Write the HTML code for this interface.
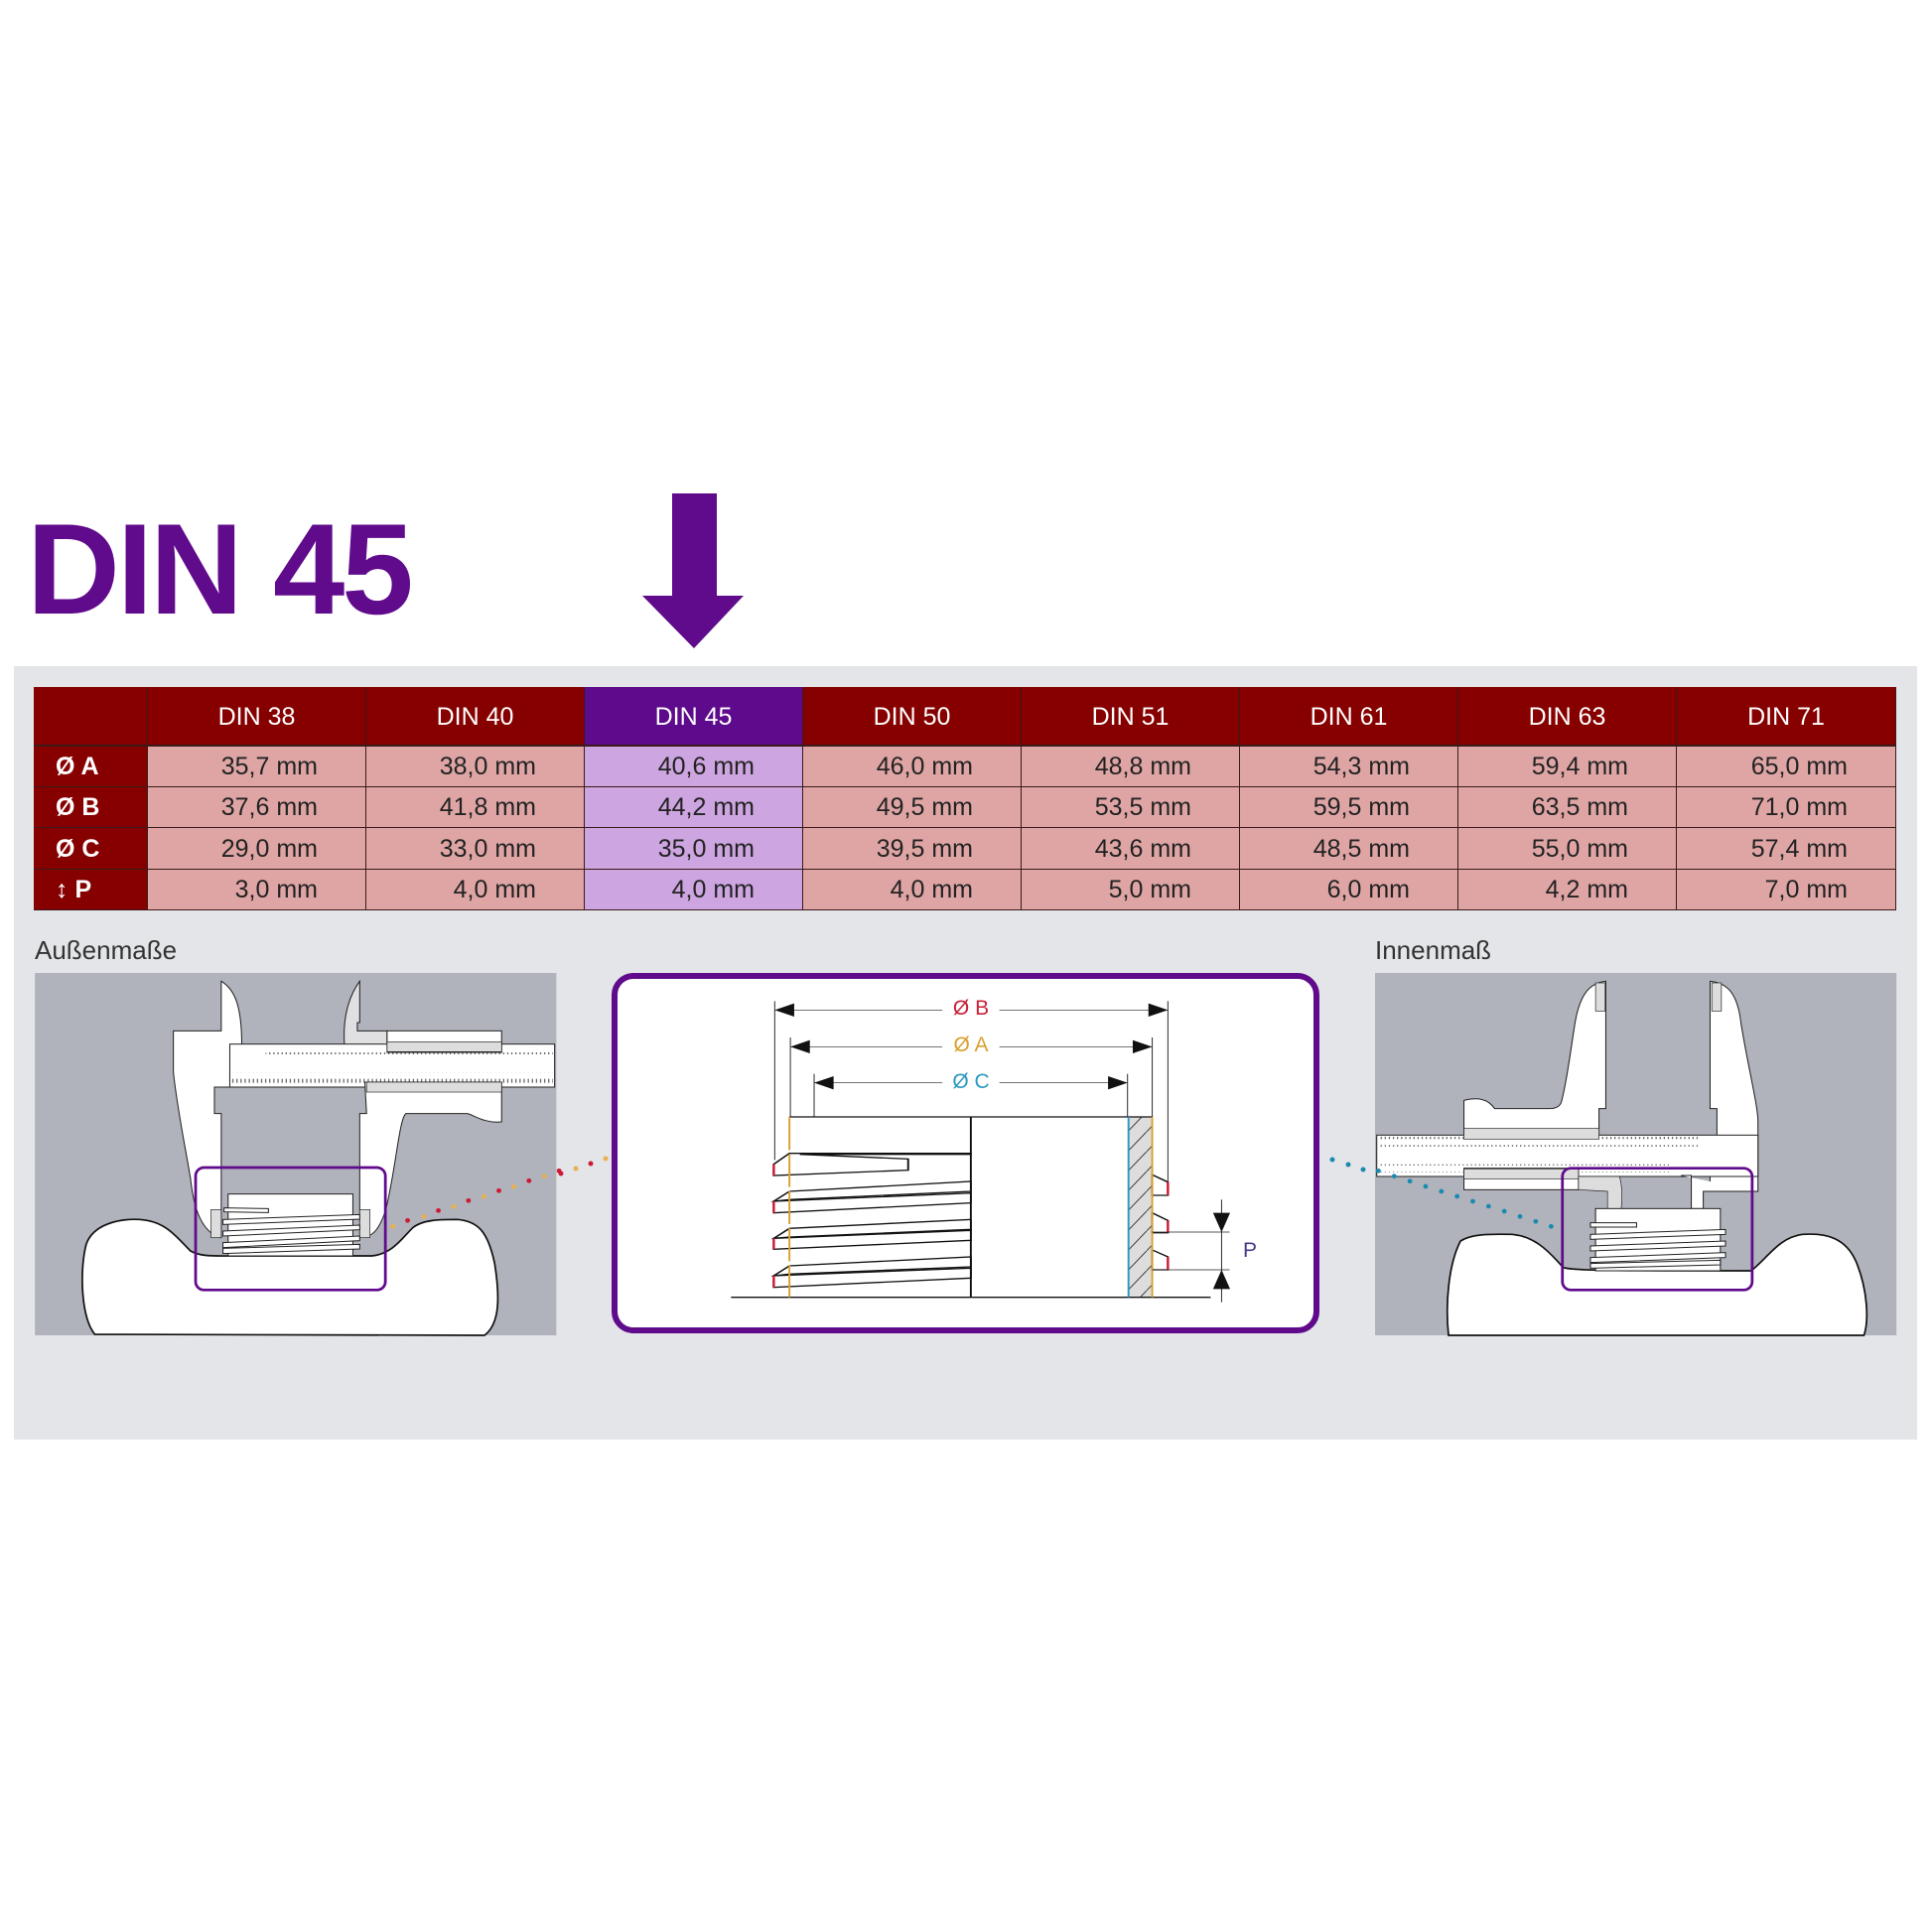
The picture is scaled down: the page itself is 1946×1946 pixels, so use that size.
<!DOCTYPE html>
<html><head><meta charset="utf-8"><style>
body{margin:0;width:1946px;height:1946px;background:#fff;position:relative;overflow:hidden;font-family:"Liberation Sans",sans-serif}
.a{position:absolute}
.c{position:absolute;box-sizing:border-box;border-right:1.5px solid #3a1a1a;border-bottom:1.5px solid #3a1a1a;font-size:25px;color:#222;text-align:right;padding-right:48px}
.h{position:absolute;box-sizing:border-box;border-right:1.5px solid #3a1a1a;border-bottom:2px solid #3a1a1a;font-size:25px;color:#fff;text-align:center;background:#870000}
.l{position:absolute;box-sizing:border-box;border-bottom:1.5px solid #3a1a1a;border-right:1.5px solid #3a1a1a;background:#870000;color:#fff;font-size:25px;font-weight:bold;padding-left:22px}
</style></head><body>
<div class="a" style="left:27px;top:508px;font-size:130px;font-weight:bold;color:#600a8c;letter-spacing:-3px;line-height:1">DIN 45</div>
<svg class="a" style="left:0;top:0" width="1946" height="700"><polygon points="677,497 722,497 722,600 749,600 699,653 647,600 677,600" fill="#600a8c"/></svg>
<div class="a" style="left:14px;top:671px;width:1917px;height:779px;background:#e4e5e8"></div>
<div id="t"></div>
<div class="a" style="left:35px;top:942px;font-size:26px;color:#333">Außenmaße</div>
<div class="a" style="left:1385px;top:942px;font-size:26px;color:#333">Innenmaß</div>

<svg class="a" style="left:30px;top:980px" width="540" height="380" viewBox="0 0 1568 1140" preserveAspectRatio="none">
<defs><pattern id="tk" width="12" height="40" patternUnits="userSpaceOnUse"><line x1="6" y1="0" x2="6" y2="22" stroke="#444" stroke-width="3"/></pattern></defs>
<rect x="15" y="0" width="1525" height="1095" fill="#b0b3bb"/>
<path d="M190,1092 C150,1040 145,900 165,820 C185,760 260,742 320,745 C400,750 430,800 470,840 C500,858 540,855 600,855 L1000,855 C1060,850 1090,800 1120,770 C1150,745 1200,745 1250,745 C1310,750 1340,780 1360,880 C1375,980 1375,1060 1330,1095 Z" fill="#fff" stroke="#111" stroke-width="5"/>
<path d="M420,175 L560,175 L560,25 C600,50 620,100 620,220 L650,220 L650,345 L540,345 L540,425 L560,425 L560,800 L555,800 C505,780 480,720 470,620 C450,500 430,400 420,300 Z" fill="#fff" stroke="#222" stroke-width="3"/>
<path d="M920,212 C915,120 940,60 965,25 L965,150 L958,150 L958,175 L1045,175 L1045,240 L920,240 Z" fill="#e0e0e2" stroke="#222" stroke-width="3"/>
<rect x="585" y="215" width="950" height="130" fill="#fff" stroke="#222" stroke-width="3"/>
<rect x="690" y="222" width="840" height="24" fill="url(#tk)"/>
<rect x="590" y="302" width="940" height="30" fill="url(#tk)"/>
<rect x="1045" y="175" width="335" height="65" fill="#fff" stroke="#222" stroke-width="3"/>
<rect x="1045" y="208" width="335" height="30" fill="#ddd" stroke="#222" stroke-width="2"/>
<path d="M980,330 L1380,330 L1380,450 C1330,455 1300,430 1280,425 L1100,425 C1080,440 1070,600 1040,720 C1020,780 1000,800 965,800 L965,425 L985,425 Z" fill="#fff" stroke="#222" stroke-width="3"/>
<rect x="985" y="330" width="395" height="30" fill="#ddd" stroke="#222" stroke-width="2"/>
<rect x="530" y="715" width="30" height="85" fill="#ddd" stroke="#222" stroke-width="2"/>
<rect x="965" y="715" width="30" height="85" fill="#ddd" stroke="#222" stroke-width="2"/>
<rect x="580" y="668" width="365" height="187" fill="#fff" stroke="#222" stroke-width="3"/>
<g fill="#fff" stroke="#222" stroke-width="3">
<polygon points="568,710 698,712 698,724 568,722"/>
<polygon points="565,745 965,730 965,744 565,760"/>
<polygon points="565,780 965,762 965,776 565,795"/>
<polygon points="565,815 965,795 965,809 565,830"/>
<polygon points="565,832 965,820 965,834 565,848"/>
</g>
<rect x="485" y="588" width="555" height="370" rx="25" fill="none" stroke="#600a8c" stroke-width="8"/>
<g fill="#cc1a33"><circle cx="1105" cy="748" r="7"/><circle cx="1195" cy="718" r="7"/><circle cx="1283" cy="688" r="7"/><circle cx="1372" cy="658" r="7"/><circle cx="1460" cy="628" r="7"/><circle cx="1548" cy="598" r="7"/></g>
<g fill="#e8b050"><circle cx="1062" cy="766" r="7"/><circle cx="1152" cy="736" r="7"/><circle cx="1240" cy="706" r="7"/><circle cx="1328" cy="676" r="7"/><circle cx="1416" cy="646" r="7"/><circle cx="1505" cy="614" r="7"/></g>
</svg>

<svg class="a" style="left:1385px;top:980px" width="540" height="380" viewBox="0 0 1568 1140" preserveAspectRatio="none">
<defs><pattern id="tk2" width="12" height="40" patternUnits="userSpaceOnUse"><line x1="6" y1="0" x2="6" y2="22" stroke="#444" stroke-width="3"/></pattern></defs>
<rect x="0" y="0" width="1525" height="1095" fill="#b0b3bb"/>
<path d="M215,1095 C205,1000 215,880 250,810 C280,790 330,788 400,790 C460,795 500,830 550,890 C580,900 700,900 1100,900 C1150,860 1180,800 1250,790 C1320,785 1380,800 1410,880 C1440,960 1445,1050 1430,1095 Z" fill="#fff" stroke="#111" stroke-width="5"/>
<path d="M980,25 C1030,30 1060,60 1070,150 C1090,280 1120,400 1120,450 L1120,660 L980,660 L980,615 L1000,615 L1000,410 L980,410 Z" fill="#fff" stroke="#222" stroke-width="3"/>
<path d="M675,25 C630,30 600,60 585,150 C570,250 560,330 545,390 C540,405 525,410 510,410 L350,410 C330,380 300,375 260,385 L260,490 L655,490 L655,410 L675,410 Z" fill="#fff" stroke="#222" stroke-width="3"/>
<rect x="645" y="30" width="28" height="85" fill="#ddd" stroke="#222" stroke-width="2"/>
<rect x="985" y="30" width="28" height="85" fill="#ddd" stroke="#222" stroke-width="2"/>
<rect x="5" y="490" width="1115" height="125" fill="#fff" stroke="#222" stroke-width="3"/>
<rect x="10" y="495" width="940" height="30" fill="url(#tk2)"/>
<rect x="10" y="578" width="850" height="24" fill="url(#tk2)"/>
<rect x="260" y="470" width="395" height="32" fill="#ddd" stroke="#222" stroke-width="2"/>
<rect x="260" y="590" width="335" height="65" fill="#fff" stroke="#222" stroke-width="3"/>
<rect x="260" y="592" width="335" height="30" fill="#ddd" stroke="#222" stroke-width="2"/>
<path d="M595,615 L715,615 C725,650 722,690 720,712 L680,712 L680,660 L595,655 Z" fill="#ddd" stroke="#222" stroke-width="2"/>
<path d="M895,612 L925,612 L925,712 L960,712 L960,660 L1120,660" fill="#fff" stroke="#222" stroke-width="3"/>
<rect x="645" y="712" width="365" height="188" fill="#fff" stroke="#222" stroke-width="3"/>
<g fill="#fff" stroke="#222" stroke-width="3">
<polygon points="630,755 765,755 765,768 630,768"/>
<polygon points="630,790 1025,775 1025,790 630,805"/>
<polygon points="630,825 1025,810 1025,825 630,840"/>
<polygon points="630,860 1025,845 1025,860 630,875"/>
<polygon points="630,878 1010,868 1010,882 630,892"/>
</g>
<rect x="548" y="590" width="555" height="368" rx="25" fill="none" stroke="#600a8c" stroke-width="8"/>
<g fill="#1a8ab0"><circle cx="10" cy="598" r="7"/><circle cx="56" cy="614" r="7"/><circle cx="102" cy="629" r="7"/><circle cx="148" cy="645" r="7"/><circle cx="194" cy="660" r="7"/><circle cx="240" cy="675" r="7"/><circle cx="286" cy="690" r="7"/><circle cx="332" cy="705" r="7"/><circle cx="378" cy="720" r="7"/><circle cx="424" cy="736" r="7"/><circle cx="470" cy="751" r="7"/><circle cx="515" cy="766" r="7"/></g>
</svg>
<svg class="a" style="left:0;top:1150px" width="1946" height="50">
<g fill="#e8b050"><circle cx="580" cy="27" r="2.5"/><circle cx="610" cy="17" r="2.5"/></g>
<g fill="#cc1a33"><circle cx="565" cy="32" r="2.5"/><circle cx="595" cy="22" r="2.5"/></g>
<g fill="#1a8ab0"><circle cx="1342" cy="18" r="2.5"/><circle cx="1358" cy="23" r="2.5"/><circle cx="1373" cy="28" r="2.5"/></g>
</svg>

<div class="a" style="left:616px;top:980px;width:701px;height:351px;border:6px solid #600a8c;border-radius:22px;background:#fff"></div>
<svg class="a" style="left:600px;top:960px" width="750" height="400" viewBox="0 0 1568 1200" preserveAspectRatio="none">
<defs><pattern id="hh" width="40" height="60" patternUnits="userSpaceOnUse"><line x1="0" y1="60" x2="40" y2="0" stroke="#222" stroke-width="2"/></pattern></defs>
<g stroke="#222" stroke-width="2" fill="none">
<line x1="377" y1="145" x2="377" y2="625"/><line x1="1205" y1="145" x2="1205" y2="690"/>
<line x1="410" y1="255" x2="410" y2="495"/><line x1="1172" y1="255" x2="1172" y2="495"/>
<line x1="460" y1="365" x2="460" y2="495"/><line x1="1120" y1="365" x2="1120" y2="495"/>
<line x1="377" y1="172" x2="730" y2="172"/><line x1="850" y1="172" x2="1205" y2="172"/>
<line x1="410" y1="283" x2="730" y2="283"/><line x1="850" y1="283" x2="1172" y2="283"/>
<line x1="460" y1="392" x2="730" y2="392"/><line x1="850" y1="392" x2="1120" y2="392"/>
</g>
<g fill="#111">
<polygon points="377,172 418,152 418,192"/><polygon points="1205,172 1164,152 1164,192"/>
<polygon points="410,283 451,263 451,303"/><polygon points="1172,283 1131,263 1131,303"/>
<polygon points="460,392 501,372 501,412"/><polygon points="1120,392 1079,372 1079,412"/>
</g>
<rect x="1122" y="495" width="50" height="545" fill="#ddd"/>
<rect x="1122" y="495" width="50" height="545" fill="url(#hh)"/>
<g stroke="#111" stroke-width="4" fill="none">
<line x1="408" y1="495" x2="1172" y2="495"/>
<line x1="790" y1="495" x2="790" y2="1040"/>
<line x1="285" y1="1040" x2="1295" y2="1040"/>
</g>
<g fill="#fff" stroke="#111" stroke-width="4">
<polygon points="408,605 790,605 790,608 430,608 658,622 658,656 375,672 375,638"/>
<polygon points="375,750 408,720 790,690 790,720 408,745"/>
<polygon points="375,750 790,725 790,755 375,785"/>
<polygon points="375,862 408,832 790,805 790,835 408,858"/>
<polygon points="375,862 790,838 790,868 375,895"/>
<polygon points="375,975 408,945 790,918 790,948 408,970"/>
<polygon points="375,975 790,952 790,982 375,1010"/>
<polygon points="1172,670 1205,692 1205,732 1172,732"/>
<polygon points="1172,785 1205,808 1205,845 1172,845"/>
<polygon points="1172,897 1205,918 1205,957 1172,957"/>
</g>
<g stroke="#cc1a33" stroke-width="5">
<line x1="375" y1="638" x2="375" y2="672"/><line x1="375" y1="750" x2="375" y2="785"/><line x1="375" y1="862" x2="375" y2="895"/><line x1="375" y1="975" x2="375" y2="1010"/>
<line x1="1205" y1="692" x2="1205" y2="732"/><line x1="1205" y1="808" x2="1205" y2="845"/><line x1="1205" y1="918" x2="1205" y2="957"/>
</g>
<line x1="408" y1="495" x2="408" y2="1040" stroke="#d9a030" stroke-width="4" stroke-dasharray="100,12"/>
<line x1="1172" y1="495" x2="1172" y2="1040" stroke="#d9a030" stroke-width="4"/>
<line x1="1122" y1="495" x2="1122" y2="1040" stroke="#2a9ac0" stroke-width="4"/>
<g stroke="#222" stroke-width="2"><line x1="1172" y1="843" x2="1335" y2="843"/><line x1="1172" y1="957" x2="1335" y2="957"/><line x1="1318" y1="745" x2="1318" y2="1055"/></g>
<polygon points="1318,843 1300,785 1336,785" fill="#111"/><polygon points="1318,957 1300,1015 1336,1015" fill="#111"/>
</svg>
<div class="a" style="left:950px;top:1004px;width:56px;text-align:center;font-size:21px;color:#c8203a">Ø B</div>
<div class="a" style="left:950px;top:1041px;width:56px;text-align:center;font-size:21px;color:#d9a030">Ø A</div>
<div class="a" style="left:950px;top:1078px;width:56px;text-align:center;font-size:21px;color:#2a9ac0">Ø C</div>
<div class="a" style="left:1252px;top:1248px;font-size:21px;color:#4a3a8a">P</div>

<script>
var cols=[149,369,589,809,1029,1249,1469,1689,1910];
var heads=["DIN 38","DIN 40","DIN 45","DIN 50","DIN 51","DIN 61","DIN 63","DIN 71"];
var rows=[["Ø A","35,7","38,0","40,6","46,0","48,8","54,3","59,4","65,0"],["Ø B","37,6","41,8","44,2","49,5","53,5","59,5","63,5","71,0"],["Ø C","29,0","33,0","35,0","39,5","43,6","48,5","55,0","57,4"],["↕ P","3,0","4,0","4,0","4,0","5,0","6,0","4,2","7,0"]];
var ry=[752,793,834,876,917];var h="";
h+='<div class="h" style="left:34px;top:692px;width:115px;height:60px"></div>';
for(var i=0;i<8;i++)h+='<div class="h" style="left:'+cols[i]+'px;top:692px;width:'+(cols[i+1]-cols[i])+'px;height:60px;line-height:60px;'+(i==2?'background:#5e0a8c':'')+'">'+heads[i]+'</div>';
for(var r=0;r<4;r++){var hh=ry[r+1]-ry[r];
h+='<div class="l" style="left:34px;top:'+ry[r]+'px;width:115px;height:'+hh+'px;line-height:'+hh+'px">'+rows[r][0]+'</div>';
for(var i=0;i<8;i++)h+='<div class="c" style="left:'+cols[i]+'px;top:'+ry[r]+'px;width:'+(cols[i+1]-cols[i])+'px;height:'+hh+'px;line-height:'+hh+'px;background:'+(i==2?'#cda5e0':'#dfa5a5')+'">'+rows[r][i+1]+' mm</div>';}
document.getElementById('t').innerHTML=h;
</script>
</body></html>
